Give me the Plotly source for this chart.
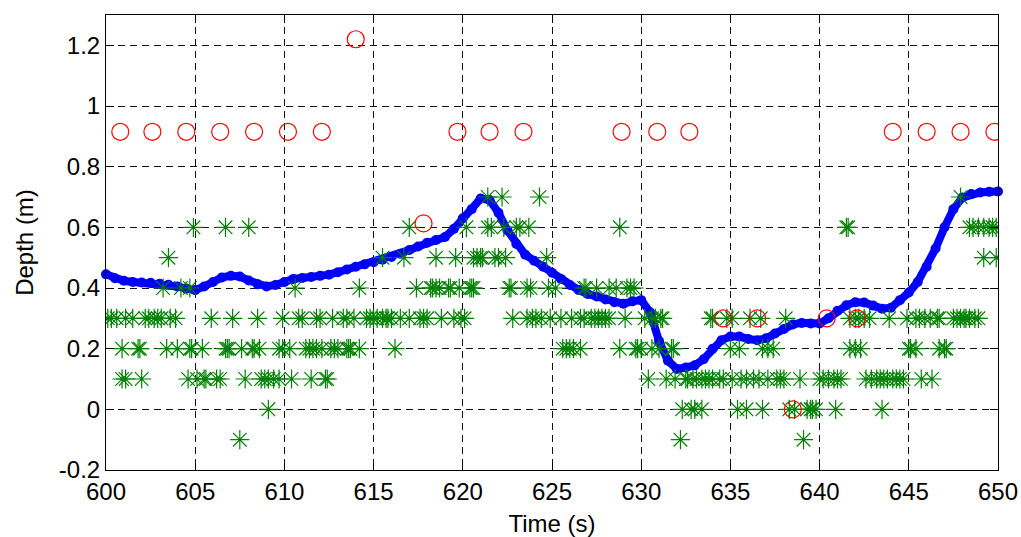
import plotly.graph_objects as go

# ---- Blue depth trace (time in s, depth in m) ----
depth_time = [600.0 + 0.5 * i for i in range(101)]
depth_values = [
    0.445, 0.432, 0.424, 0.420, 0.418, 0.417, 0.414, 0.411, 0.405, 0.398,
    0.393, 0.405, 0.420, 0.435, 0.440, 0.438, 0.425, 0.412, 0.405, 0.410,
    0.420, 0.430, 0.433, 0.436, 0.440, 0.444, 0.452, 0.461, 0.470, 0.478,
    0.485, 0.493, 0.502, 0.513, 0.525, 0.537, 0.549, 0.558, 0.568, 0.595,
    0.630, 0.660, 0.695, 0.690, 0.648, 0.590, 0.545, 0.510, 0.490, 0.470,
    0.450, 0.430, 0.410, 0.393, 0.380, 0.372, 0.362, 0.353, 0.348, 0.356,
    0.360, 0.320, 0.225, 0.160, 0.133, 0.138, 0.145, 0.165, 0.200, 0.228,
    0.240, 0.240, 0.232, 0.228, 0.234, 0.250, 0.265, 0.280, 0.285, 0.283,
    0.283, 0.300, 0.325, 0.343, 0.353, 0.352, 0.342, 0.332, 0.335, 0.360,
    0.385, 0.420, 0.470, 0.530, 0.600, 0.660, 0.698, 0.710, 0.715, 0.717,
    0.718,
]

# ---- Green star measurements, grouped by depth level ----
star_t_070 = [621.4, 622.2, 624.3, 647.9]
star_t_060 = [604.9, 606.7, 608.0, 617.0, 620.2, 621.4, 621.6, 622.3, 623.0, 623.2,
              623.7, 628.8, 641.5, 641.6, 648.4, 648.6, 648.9, 649.2, 649.5, 649.7, 649.9]
star_t_050 = [603.5, 615.5, 616.7, 618.5, 619.6, 620.6, 620.8, 621.0, 621.1, 621.8,
              622.0, 622.4, 624.7, 649.2, 649.9]
star_t_040 = [603.2, 604.2, 604.7, 610.6, 614.2, 617.4, 618.2, 618.3, 618.5, 618.7,
              619.2, 619.3, 619.8, 620.4, 620.5, 620.6, 622.6, 622.7, 623.6, 623.8,
              624.8, 625.2, 626.8, 626.9, 627.5, 628.2, 628.6, 629.2, 629.4, 629.6]
star_t_030 = [600.1, 600.3, 600.6, 601.1, 601.5, 602.2, 602.4, 602.7, 602.9, 603.1,
              603.6, 603.9, 605.9, 607.1, 608.5, 609.9, 610.8, 611.0, 611.8, 612.0,
              612.7, 613.3, 613.5, 613.9, 614.6, 614.8, 615.0, 615.2, 615.5, 615.7,
              615.8, 616.0, 616.5, 617.0, 617.6, 617.8, 618.0, 618.8, 619.5, 619.9,
              620.1, 622.8, 623.6, 623.9, 624.1, 624.4, 624.9, 625.5, 626.1, 626.6,
              626.8, 627.2, 627.4, 627.6, 627.8, 628.0, 628.2, 629.1, 630.2, 630.6,
              630.8, 631.1, 631.2, 633.9, 634.0, 634.8, 635.1, 636.1, 636.7, 638.1,
              641.7, 642.0, 642.2, 642.5, 642.8, 643.9, 644.9, 645.4, 645.6, 645.9,
              646.2, 646.6, 646.7, 647.5, 647.7, 647.9, 648.1, 648.2, 648.4, 648.7, 648.9]
star_t_020 = [600.9, 601.8, 601.9, 603.4, 604.0, 604.7, 604.8, 605.4, 606.7, 606.8,
              606.9, 607.6, 608.2, 608.3, 608.6, 609.7, 609.9, 610.3, 611.2, 611.4,
              611.8, 611.6, 612.1, 612.6, 612.8, 613.0, 613.5, 613.6, 613.7, 614.2,
              616.2, 625.6, 625.8, 626.0, 626.2, 626.6, 628.8, 629.7, 629.8, 630.0,
              630.6, 631.0, 631.7, 631.8, 635.0, 635.5, 636.8, 637.1, 637.4, 641.7,
              642.0, 642.3, 645.0, 645.1, 645.4, 646.7, 647.0, 647.1]
star_t_010 = [600.9, 601.1, 602.0, 604.6, 605.1, 605.5, 605.6, 606.2, 606.4, 607.8,
              608.7, 608.9, 609.1, 609.4, 609.7, 610.4, 611.5, 612.3, 612.4, 630.4,
              631.4, 631.9, 632.5, 632.6, 632.9, 633.1, 633.4, 633.6, 633.8, 634.0,
              634.4, 634.6, 635.1, 635.6, 635.9, 636.3, 636.6, 637.1, 637.6, 637.8,
              638.0, 638.9, 640.0, 640.2, 640.5, 640.8, 641.0, 641.2, 642.6, 642.9,
              643.2, 643.4, 643.6, 643.8, 644.1, 644.3, 644.5, 644.7, 645.7, 646.3]
star_t_000 = [609.1, 632.3, 632.8, 633.0, 633.4, 635.4, 635.9, 636.8, 638.3, 638.6,
              639.3, 639.5, 639.6, 639.8, 640.9, 643.5]
star_t_m010 = [607.5, 632.2, 639.1]

star_levels = [0.7, 0.6, 0.5, 0.4, 0.3, 0.2, 0.1, 0.0, -0.1]
star_groups = [star_t_070, star_t_060, star_t_050, star_t_040, star_t_030,
               star_t_020, star_t_010, star_t_000, star_t_m010]

# ---- Red circle estimates ----
circle_time = [600.8, 602.6, 604.5, 606.4, 608.3, 610.2, 612.1, 614.0, 617.8,
               619.7, 621.5, 623.4, 628.9, 630.9, 632.7, 634.6, 636.5, 638.5,
               640.4, 642.1, 644.1, 646.0, 647.9, 649.8]
circle_depth = [0.915, 0.915, 0.915, 0.915, 0.915, 0.915, 0.915, 1.22, 0.613,
                0.915, 0.915, 0.915, 0.915, 0.915, 0.915, 0.30, 0.30, 0.0,
                0.30, 0.30, 0.915, 0.915, 0.915, 0.915]

# ---- Axis ticks ----
x_ticks = [600, 605, 610, 615, 620, 625, 630, 635, 640, 645, 650]
y_ticks = [-0.2, 0.0, 0.2, 0.4, 0.6, 0.8, 1.0, 1.2]
y_tick_labels = ["-0.2", "0", "0.2", "0.4", "0.6", "0.8", "1", "1.2"]

star_x, star_y = [], []
for lvl, grp in zip(star_levels, star_groups):
    star_x.extend(grp)
    star_y.extend([lvl] * len(grp))

fig = go.Figure()
fig.add_trace(go.Scatter(
    x=depth_time, y=depth_values, mode="lines+markers",
    line=dict(color="#0000ff", width=8),
    marker=dict(color="#0000ff", size=10, symbol="circle"),
    cliponaxis=False, showlegend=False,
))
fig.add_trace(go.Scatter(
    x=star_x, y=star_y, mode="markers",
    marker=dict(symbol="asterisk-open", size=16, color="#008000",
                line=dict(color="#008000", width=1.2)),
    showlegend=False,
))
fig.add_trace(go.Scatter(
    x=circle_time, y=circle_depth, mode="markers",
    marker=dict(symbol="circle-open", size=17, color="#ff0000",
                line=dict(color="#ff0000", width=1.2)),
    showlegend=False,
))

font_family = "Arial, Liberation Sans, Helvetica, sans-serif"
axis_common = dict(
    showline=True, linecolor="black", linewidth=1, mirror="ticks",
    ticks="inside", ticklen=8, tickcolor="black", tickwidth=1,
    showgrid=True, gridcolor="#111111", gridwidth=1, griddash="7px,5px",
    zeroline=False, automargin=False,
    tickfont=dict(family=font_family, size=24, color="black"),
)

fig.update_xaxes(
    range=[600, 650], tickvals=x_ticks, ticktext=[str(v) for v in x_ticks],
    title=dict(text="Time (s)", font=dict(family=font_family, size=24, color="black"),
               standoff=11),
    **axis_common,
)
fig.update_yaxes(
    range=[-0.2, 1.3], tickvals=y_ticks, ticktext=y_tick_labels,
    title=dict(text="Depth (m)", font=dict(family=font_family, size=24, color="black"),
               standoff=18),
    **axis_common,
)

fig.update_layout(
    width=1021, height=537,
    margin=dict(l=106, r=23, t=15, b=67),
    paper_bgcolor="white", plot_bgcolor="white",
)

fig.write_html("out.html")
